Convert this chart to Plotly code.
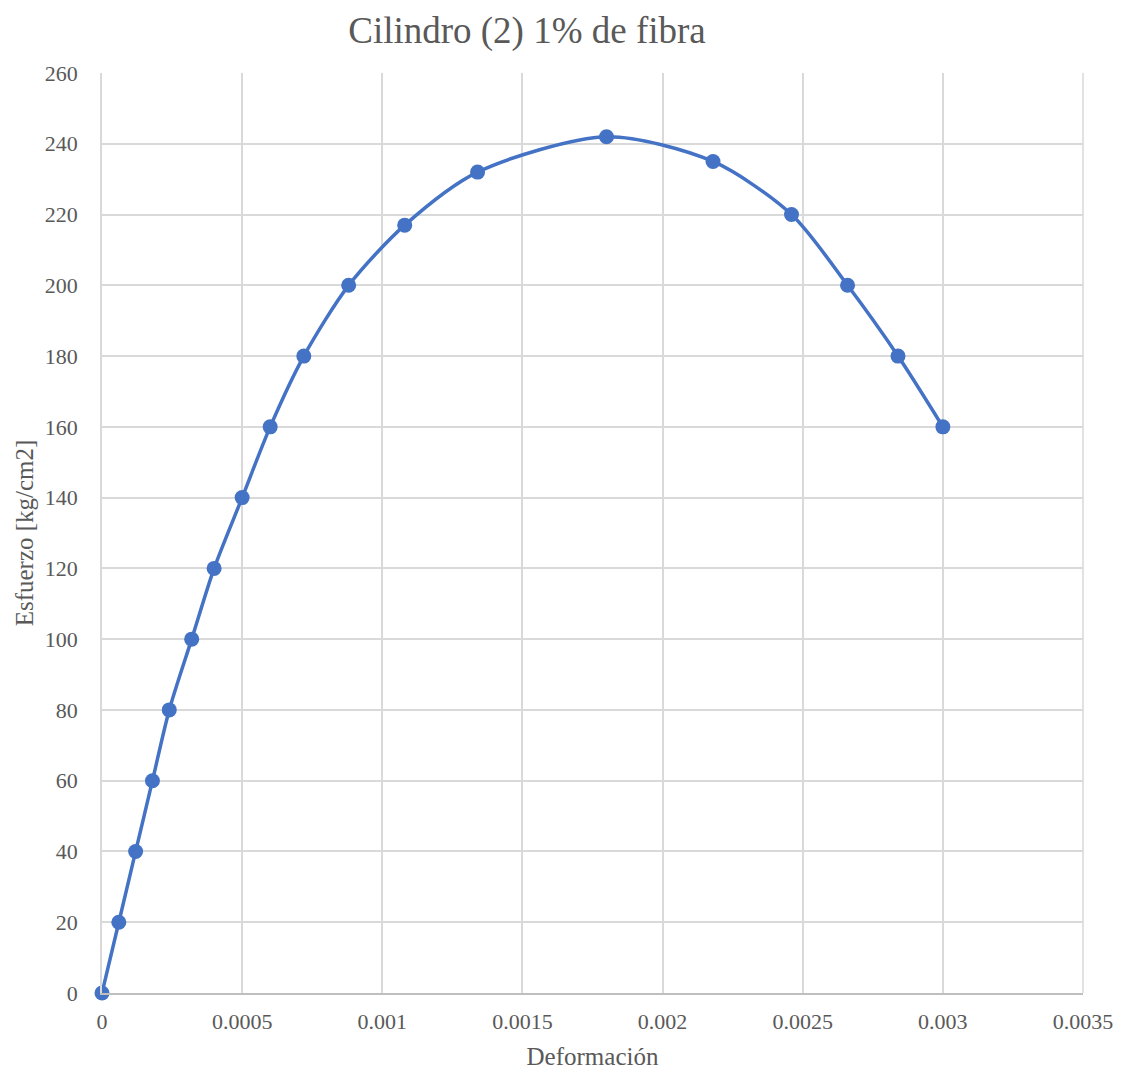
import plotly.graph_objects as go

# Stress-strain data for cylinder 2 with 1% fibre
deformacion = [0, 0.00006, 0.00012, 0.00018, 0.00024, 0.00032, 0.0004, 0.0005,
               0.0006, 0.00072, 0.00088, 0.00108, 0.00134, 0.0018, 0.00218,
               0.00246, 0.00266, 0.00284, 0.003]
esfuerzo = [0, 20, 40, 60, 80, 100, 120, 140, 160, 180, 200, 217, 232, 242,
            235, 220, 200, 180, 160]

x_ticks = [0, 0.0005, 0.001, 0.0015, 0.002, 0.0025, 0.003, 0.0035]
x_labels = ["0", "0.0005", "0.001", "0.0015", "0.002", "0.0025", "0.003", "0.0035"]

font_family = "Liberation Serif"
grey = "#595959"
grid = "#d9d9d9"

fig = go.Figure(
    go.Scatter(
        x=deformacion,
        y=esfuerzo,
        mode="lines+markers",
        line=dict(color="#4472C4", width=3.5, shape="spline", smoothing=0.8),
        marker=dict(color="#4472C4", size=15),
        showlegend=False,
        cliponaxis=False,
    )
)

fig.update_layout(
    width=1124,
    height=1075,
    paper_bgcolor="white",
    plot_bgcolor="white",
    margin=dict(l=102, r=41, t=73, b=82),
    title=dict(
        text="Cilindro (2) 1% de fibra",
        x=527 / 1124, xanchor="center", xref="container",
        y=1 - 30 / 1075, yanchor="middle",
        font=dict(family=font_family, size=37, color=grey),
    ),
    font=dict(family=font_family, color=grey, size=22),
)

fig.update_xaxes(
    range=[0, 0.0035],
    tickvals=x_ticks,
    ticktext=x_labels,
    showgrid=True, gridcolor=grid, gridwidth=1.5,
    zeroline=False,
    showline=True, linecolor="#bfbfbf", linewidth=1.5, mirror=False,
    ticks="", ticklabelstandoff=8, automargin=False,
    tickfont=dict(family=font_family, size=22, color=grey),
    title=dict(text="Deformación", standoff=14,
               font=dict(family=font_family, size=25, color=grey)),
)

fig.update_yaxes(
    range=[0, 260],
    dtick=20,
    showgrid=True, gridcolor=grid, gridwidth=1.5,
    zeroline=False,
    showline=True, linecolor=grid, linewidth=1.5,
    ticks="", ticklabelstandoff=18, automargin=False,
    tickfont=dict(family=font_family, size=22, color=grey),
    title=dict(text="Esfuerzo [kg/cm2]", standoff=4,
               font=dict(family=font_family, size=25, color=grey)),
)

# Right border of the plot area
fig.add_shape(type="line", xref="paper", yref="paper", x0=1, x1=1, y0=0, y1=1,
              line=dict(color=grid, width=1.5), layer="below")

fig.write_html("out.html")
